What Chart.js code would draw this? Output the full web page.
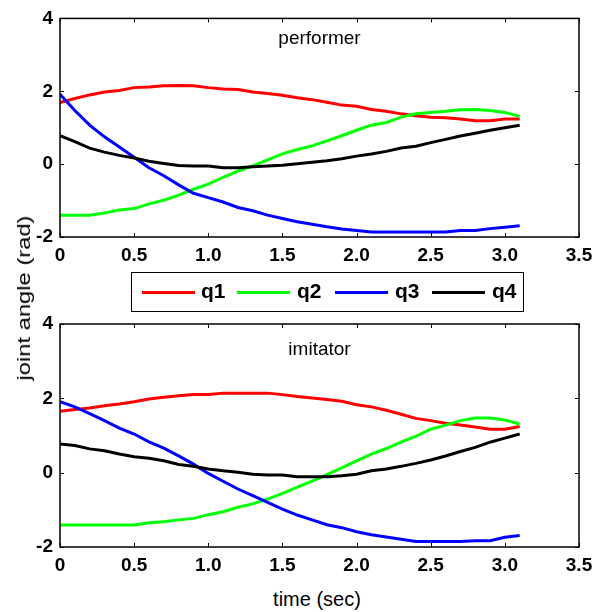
<!DOCTYPE html>
<html>
<head>
<meta charset="utf-8">
<script src="https://cdn.jsdelivr.net/npm/chart.js@4.4.1/dist/chart.umd.min.js"></script>
<style>
  html,body{margin:0;padding:0;background:#fff;}
  #page{position:relative;width:611px;height:612px;overflow:hidden;background:#fff;font-family:"Liberation Sans",Arial,sans-serif;}
  #c1{position:absolute;left:0;top:0;}
  #c2{position:absolute;left:0;top:290px;}
  #legend{position:absolute;left:131px;top:272px;width:393px;height:40px;border:1.5px solid #000;box-sizing:border-box;}
  .li{position:absolute;top:18px;height:3px;width:53px;}
  .lt{position:absolute;top:6px;font-weight:bold;font-size:21px;line-height:24px;color:#000;}
  #ylab{position:absolute;left:24px;top:298px;font-size:19px;white-space:nowrap;transform:translate(-50%,-50%) rotate(-90deg) scaleX(1.25);}
  #xlab{position:absolute;left:317px;top:589px;font-size:20px;line-height:20px;white-space:nowrap;transform:translateX(-50%);}
</style>
</head>
<body>
<div id="page">
  <canvas id="c1" width="611" height="275"></canvas>
  <canvas id="c2" width="611" height="290"></canvas>
  <div id="legend"></div>
  <div id="ylab">joint angle (rad)</div>
  <div id="xlab">time (sec)</div>
</div>
<script>
// ---- data ----
const seriesNames = ["q1", "q2", "q3", "q4"];
const seriesColors = ["#ff0000", "#00ff00", "#0000ff", "#000000"];
const time = [0,0.1,0.2,0.3,0.4,0.5,0.6,0.7,0.8,0.9,1.0,1.1,1.2,1.3,1.4,1.5,1.6,1.7,1.8,1.9,2.0,2.1,2.2,2.3,2.4,2.5,2.6,2.7,2.8,2.9,3.0,3.1];

const perfQ1 = [1.69,1.80,1.90,1.98,2.02,2.10,2.12,2.15,2.16,2.15,2.10,2.06,2.05,1.98,1.94,1.89,1.82,1.77,1.70,1.62,1.59,1.50,1.45,1.38,1.33,1.29,1.27,1.24,1.19,1.19,1.24,1.24];
const perfQ2 = [-1.40,-1.40,-1.40,-1.34,-1.26,-1.22,-1.09,-0.99,-0.85,-0.69,-0.55,-0.36,-0.19,-0.05,0.12,0.28,0.40,0.50,0.64,0.78,0.93,1.07,1.14,1.29,1.38,1.42,1.45,1.49,1.50,1.47,1.42,1.31];
const perfQ3 = [1.92,1.47,1.07,0.75,0.47,0.19,-0.10,-0.32,-0.57,-0.80,-0.92,-1.04,-1.19,-1.28,-1.40,-1.49,-1.58,-1.65,-1.72,-1.78,-1.82,-1.86,-1.86,-1.86,-1.86,-1.86,-1.86,-1.82,-1.82,-1.77,-1.73,-1.69];
const perfQ4 = [0.78,0.62,0.44,0.33,0.24,0.17,0.08,0.02,-0.04,-0.05,-0.05,-0.10,-0.10,-0.07,-0.05,-0.03,0.01,0.05,0.09,0.15,0.22,0.28,0.35,0.44,0.49,0.59,0.68,0.77,0.85,0.93,1.00,1.07];

const imitQ1 = [1.65,1.70,1.74,1.80,1.85,1.91,1.98,2.03,2.07,2.10,2.10,2.14,2.14,2.14,2.14,2.10,2.05,2.01,1.97,1.92,1.83,1.77,1.68,1.57,1.46,1.40,1.33,1.28,1.23,1.17,1.17,1.24];
const imitQ2 = [-1.41,-1.41,-1.41,-1.41,-1.41,-1.41,-1.35,-1.32,-1.27,-1.23,-1.13,-1.05,-0.93,-0.84,-0.71,-0.56,-0.39,-0.23,-0.05,0.13,0.32,0.50,0.65,0.82,0.98,1.17,1.28,1.40,1.47,1.47,1.42,1.31];
const imitQ3 = [1.91,1.77,1.59,1.40,1.20,1.04,0.83,0.66,0.45,0.23,-0.02,-0.23,-0.44,-0.62,-0.80,-0.98,-1.14,-1.27,-1.40,-1.48,-1.59,-1.67,-1.73,-1.79,-1.85,-1.85,-1.85,-1.85,-1.83,-1.83,-1.74,-1.69];
const imitQ4 = [0.77,0.73,0.64,0.59,0.50,0.43,0.39,0.32,0.22,0.17,0.10,0.05,0.01,-0.04,-0.06,-0.06,-0.11,-0.11,-0.11,-0.08,-0.04,0.05,0.10,0.17,0.25,0.34,0.45,0.57,0.68,0.82,0.93,1.04];

const xTicks = {min: 0, max: 3.5, step: 0.5};
const yTicks = {min: -2, max: 4, step: 2};
const panelTitles = ["performer", "imitator"];

// ---- legend (HTML) ----
const legendPos = [{line: 10, text: 69}, {line: 105, text: 165}, {line: 203, text: 263}, {line: 300, text: 360}];
const legendEl = document.getElementById('legend');
seriesNames.forEach((n, i) => {
  const l = document.createElement('div');
  l.className = 'li'; l.style.left = legendPos[i].line + 'px'; l.style.background = seriesColors[i];
  legendEl.appendChild(l);
  const t = document.createElement('div');
  t.className = 'lt'; t.style.left = legendPos[i].text + 'px'; t.textContent = n;
  legendEl.appendChild(t);
});

// ---- plugin: MATLAB-like box, inward ticks, panel title ----
const boxPlugin = {
  id: 'boxTicks',
  afterDatasetsDraw(chart, args, opts) {
    const {ctx, chartArea: a, scales: {x, y}} = chart;
    ctx.save();
    ctx.strokeStyle = '#000';
    ctx.lineWidth = 1.5;
    ctx.strokeRect(a.left, a.top, a.right - a.left, a.bottom - a.top);
    ctx.lineWidth = 1;
    ctx.beginPath();
    x.ticks.forEach(t => {
      const px = Math.round(x.getPixelForValue(t.value)) + 0.5;
      ctx.moveTo(px, a.bottom); ctx.lineTo(px, a.bottom - 4);
      ctx.moveTo(px, a.top); ctx.lineTo(px, a.top + 4);
    });
    y.ticks.forEach(t => {
      const py = Math.round(y.getPixelForValue(t.value)) + 0.5;
      ctx.moveTo(a.left, py); ctx.lineTo(a.left + 4, py);
      ctx.moveTo(a.right, py); ctx.lineTo(a.right - 4, py);
    });
    ctx.stroke();
    ctx.fillStyle = '#000';
    ctx.font = '19px "Liberation Sans", Arial, sans-serif';
    ctx.textAlign = 'center';
    ctx.textBaseline = 'alphabetic';
    ctx.fillText(opts.text, (a.left + a.right) / 2, a.top + opts.dy);
    ctx.restore();
  }
};

function makeChart(id, series, title, titleDy, padTop, axisH) {
  const datasets = series.map((s, i) => ({
    label: seriesNames[i],
    data: time.map((t, k) => ({x: t, y: s[k]})),
    borderColor: seriesColors[i],
    backgroundColor: seriesColors[i],
    borderWidth: 3,
    pointRadius: 0,
    tension: 0,
    fill: false,
    order: series.length - i
  }));
  const tickFont = {family: '"Liberation Sans", Arial, sans-serif', size: 19, weight: 'bold'};
  return new Chart(document.getElementById(id), {
    type: 'line',
    data: {datasets},
    plugins: [boxPlugin],
    options: {
      responsive: false,
      animation: false,
      events: [],
      layout: {padding: {top: padTop, right: 32, left: 0, bottom: 0}},
      plugins: {
        legend: {display: false},
        tooltip: {enabled: false},
        boxTicks: {text: title, dy: titleDy}
      },
      scales: {
        x: {
          type: 'linear', min: xTicks.min, max: xTicks.max,
          grid: {display: false, drawTicks: false},
          border: {display: false},
          ticks: {stepSize: xTicks.step, color: '#000', font: tickFont, padding: 7, maxRotation: 0, autoSkip: false},
          afterFit(s) { s.height = axisH; }
        },
        y: {
          type: 'linear', min: yTicks.min, max: yTicks.max,
          grid: {display: false, drawTicks: false},
          border: {display: false},
          ticks: {stepSize: yTicks.step, color: '#000', font: tickFont, padding: 7},
          afterFit(s) { s.width = 60; }
        }
      }
    }
  });
}

makeChart('c1', [perfQ1, perfQ2, perfQ3, perfQ4], panelTitles[0], 26, 15, 38);
makeChart('c2', [imitQ1, imitQ2, imitQ3, imitQ4], panelTitles[1], 31, 34, 33);
</script>
</body>
</html>
